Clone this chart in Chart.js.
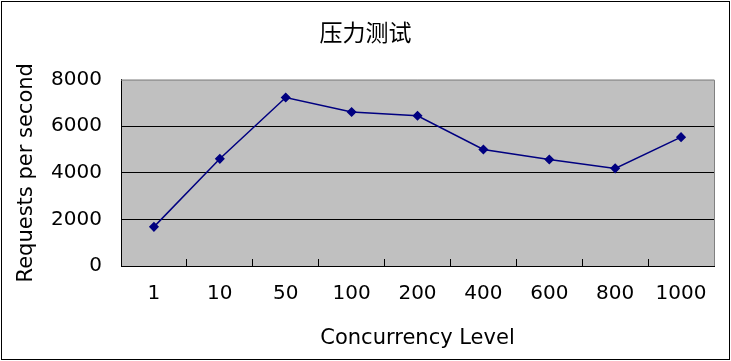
<!DOCTYPE html>
<html>
<head>
<meta charset="utf-8">
<script src="https://cdn.jsdelivr.net/npm/chart.js@4"></script>
<style>
    body { margin: 0; background: #fff; }
    #wrap { width: 731px; height: 361px; }
</style>
</head>
<body>
<div id="wrap"><canvas id="pressureChart" width="731" height="361"></canvas></div>
<script>
// Chart data
const concurrencyLevels = ['1', '10', '50', '100', '200', '400', '600', '800', '1000'];
const requestsPerSecond = [1680, 4600, 7230, 6610, 6450, 5000, 4570, 4190, 5530];
const yTicks = [0, 2000, 4000, 6000, 8000];

const tickFont = { family: 'DejaVu Sans', size: 20 };
const axisTitleFont = { family: 'DejaVu Sans', size: 21 };

// Grey plot area, outer frame, grey top/right edges
const framePlugin = {
    id: 'frame',
    beforeDraw(chart) {
        const ctx = chart.ctx;
        const a = chart.chartArea;
        ctx.save();
        ctx.fillStyle = '#ffffff';
        ctx.fillRect(0, 0, chart.width, chart.height);
        ctx.strokeStyle = '#000000';
        ctx.lineWidth = 1;
        ctx.strokeRect(1.5, 1.5, chart.width - 3, chart.height - 3);
        ctx.fillStyle = '#c0c0c0';
        ctx.fillRect(a.left, a.top, a.right - a.left, a.bottom - a.top);
        ctx.restore();
    },
    beforeDatasetsDraw(chart) {
        const ctx = chart.ctx;
        const a = chart.chartArea;
        ctx.save();
        ctx.strokeStyle = '#808080';
        ctx.lineWidth = 1;
        ctx.beginPath();
        ctx.moveTo(a.left, a.top + 0.5);
        ctx.lineTo(a.right + 0.5, a.top + 0.5);
        ctx.lineTo(a.right + 0.5, a.bottom);
        ctx.stroke();
        ctx.restore();
    }
};

const ctx = document.getElementById('pressureChart').getContext('2d');
const pressureChart = new Chart(ctx, {
    type: 'line',
    data: {
        labels: concurrencyLevels,
        datasets: [{
            data: requestsPerSecond,
            borderColor: '#000080',
            backgroundColor: '#000080',
            borderWidth: 1.5,
            pointStyle: 'rectRot',
            pointRadius: 4,
            pointHoverRadius: 4,
            tension: 0
        }]
    },
    options: {
        responsive: false,
        animation: false,
        // equal side padding so the title sits at the canvas centre
        layout: { padding: { left: 17, right: 17, top: 0, bottom: 2 } },
        plugins: {
            legend: { display: false },
            tooltip: { enabled: false },
            title: {
                display: true,
                text: '压力测试',
                color: '#000',
                font: { family: 'Noto Sans CJK SC', size: 23, weight: 'normal' },
                padding: { top: 18, bottom: 34 }
            }
        },
        scales: {
            x: {
                offset: true,
                grid: {
                    offset: true,
                    drawOnChartArea: false,
                    drawTicks: true,
                    tickLength: -7,
                    color: '#000'
                },
                border: { color: '#000', width: 1 },
                ticks: { color: '#000', font: tickFont, padding: 23, maxRotation: 0 },
                title: {
                    display: true,
                    text: 'Concurrency Level',
                    color: '#000',
                    font: axisTitleFont,
                    padding: { top: 0, bottom: 8 }
                },
                afterFit(scale) { scale.height = 93; }
            },
            y: {
                min: 0,
                max: 8000,
                afterBuildTicks(scale) { scale.ticks = yTicks.map(v => ({ value: v })); },
                grid: {
                    color: c => (c.tick && c.tick.value === 8000) ? 'rgba(0,0,0,0)' : '#000',
                    drawTicks: false
                },
                border: { color: '#000', width: 1 },
                ticks: {
                    color: '#000',
                    font: tickFont,
                    padding: 19,
                    callback: v => String(v)
                },
                title: {
                    display: true,
                    text: 'Requests per second',
                    color: '#000',
                    font: axisTitleFont,
                    padding: { top: -3, bottom: 0 }
                },
                afterFit(scale) { scale.width = 104; }
            }
        }
    },
    plugins: [framePlugin]
});
</script>
</body>
</html>
